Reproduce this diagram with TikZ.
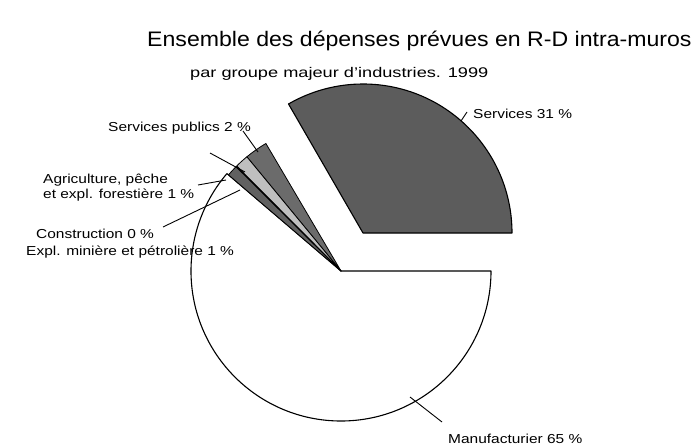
\documentclass[tikz,border=0pt]{standalone}
\usepackage{fontspec}
\setmainfont{Liberation Sans}
\usepackage{graphicx}
\newcommand{\lbl}[1]{\scalebox{1.19}[1]{#1}}
\begin{document}
\begin{tikzpicture}[x=1pt,y=-1pt,
  lab/.style={inner sep=0pt, anchor=base west, font=\fontsize{13}{15}\selectfont},
  pie/.style={draw=black, line width=1.1pt, line join=round},
  thin pie/.style={draw=black, line width=0.8pt, line join=round},
  leader/.style={draw=black, line width=0.9pt}]
\useasboundingbox (0,0) rectangle (696,447);
\fill[white] (0,0) rectangle (696,447);
\coordinate (C) at (341,271);
\coordinate (S) at (363,233);
% Manufacturier
\draw[pie, fill=white] (C) -- ++(0:150) arc[start angle=0, end angle=220.5, radius=150] -- cycle;
% Services (exploded)
\draw[pie, fill=black!64] (S) -- ++(0:149) arc[start angle=0, end angle=-120, radius=149] -- cycle;
% small slices
\draw[thin pie, fill=black!58] (C) -- ++(-120.5:148) arc[start angle=-120.5, end angle=-129.5, radius=148] -- cycle;
\draw[thin pie, fill=black!25] (C) -- ++(-129.5:148) arc[start angle=-129.5, end angle=-134.8, radius=148] -- cycle;
\draw[thin pie, fill=black!62] (C) -- ++(-135.2:148) arc[start angle=-135.2, end angle=-139.5, radius=148] -- cycle;
\draw[thin pie] (C) -- ++(-135:148);
% title
\node[inner sep=0pt, anchor=base west, font=\fontsize{21}{25}\selectfont] (title) at (147,46)
  {\scalebox{1.1}[1]{Ensemble des dépenses prévues en R-D intra-muros}};
\node[inner sep=0pt, anchor=base west, font=\fontsize{14}{16}\selectfont] (subtitle) at (190,77)
  {\scalebox{1.3}[1]{par groupe majeur d'industries. 1999}};
% labels
\node[lab] (srv) at (473,118) {\lbl{Services 31 \%}};
\node[lab] (pub) at (108,131) {\lbl{Services publics 2 \%}};
\node[lab] (agri1) at (43,183) {\lbl{Agriculture, pêche}};
\node[lab] (agri2) at (43,198) {\lbl{et expl. forestière 1 \%}};
\node[lab] (cons) at (36,238) {\lbl{Construction 0 \%}};
\node[lab] (mine) at (26,255) {\lbl{Expl. minière et pétrolière 1 \%}};
\node[lab] (manu) at (448,443) {\lbl{Manufacturier 65 \%}};
% leaders
\coordinate (srvA) at (467,112); \coordinate (srvB) at (461,121);
\coordinate (pubA) at (243,131); \coordinate (pubB) at (258,152);
\coordinate (extA) at (210,153); \coordinate (extB) at (245,172);
\coordinate (agrA) at (198,185); \coordinate (agrB) at (226,180);
\coordinate (conA) at (163,227); \coordinate (conB) at (240,190);
\coordinate (manA) at (410,397); \coordinate (manB) at (442,422);
\draw[leader] (srvA) -- (srvB);
\draw[leader] (pubA) -- (pubB);
\draw[leader] (extA) -- (extB);
\draw[leader] (agrA) -- (agrB);
\draw[leader] (conA) -- (conB);
\draw[leader] (manA) -- (manB);
\end{tikzpicture}
\end{document}
